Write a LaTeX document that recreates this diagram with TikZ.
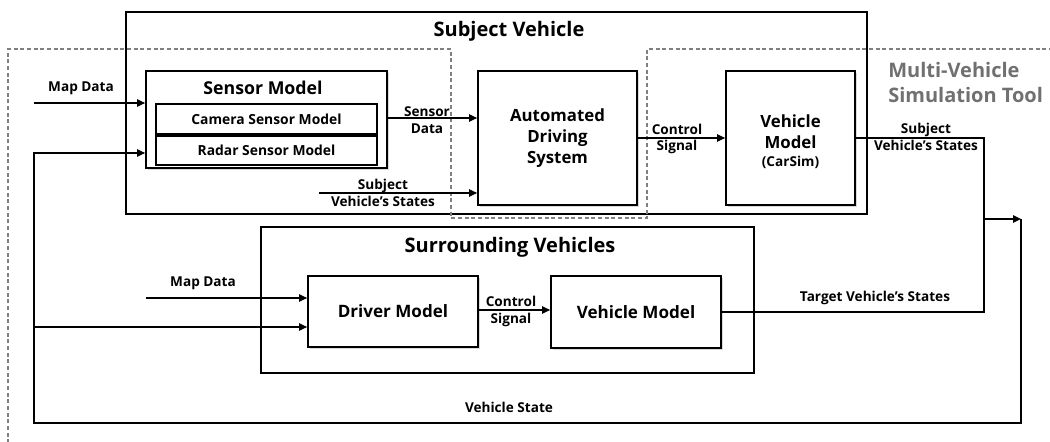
\documentclass[tikz,border=0pt]{standalone}
\usepackage{fontspec}
\setmainfont{Open Sans}
\usetikzlibrary{arrows.meta,shadows}

\definecolor{toolgray}{HTML}{707070}
\definecolor{dashgray}{HTML}{808080}

\tikzset{
  blk/.style={draw, line width=1.3pt, fill=white, inner sep=0pt, align=center,
    drop shadow={shadow xshift=1.6pt, shadow yshift=-1.6pt, opacity=0.3}},
  grp/.style={draw, line width=1.1pt, inner sep=0pt},
  subbox/.style={draw, line width=1.2pt, fill=white, inner sep=0pt,
    minimum width=165.75pt, font=\bfseries\fontsize{10.4}{12}\selectfont},
  title/.style={font=\bfseries\fontsize{15}{18}\selectfont, inner sep=0pt},
  boxtext/.style={font=\bfseries\fontsize{12.6}{15.5}\selectfont, align=center, inner sep=0pt},
  lbl/.style={font=\bfseries\fontsize{10.2}{12.5}\selectfont, align=center, inner sep=0pt},
  arr/.style={line width=1.1pt, -{Triangle[length=6pt,width=5.5pt]}},
  wire/.style={line width=1.1pt},
  tool/.style={draw=dashgray, line width=0.9pt, dash pattern=on 3pt off 2pt}
}

\begin{document}
\begin{tikzpicture}[x=0.75pt, y=-0.75pt]
  \useasboundingbox (0,0) rectangle (1050,442);
  \clip (0,0) rectangle (1050,442);

  % outer groups
  \node[grp, minimum width=555.75pt, minimum height=151.5pt] (subj) at (496.5,113) {};
  \node[grp, minimum width=369.75pt, minimum height=109.5pt] (surr) at (507.5,300) {};
  \node[title] (subjT) at (509,31) {Subject Vehicle};
  \node[title] (surrT) at (510,247) {Surrounding Vehicles};

  % simulation tool boundary
  \draw[tool] (8,450) -- (8,49) -- (451,49) -- (451,218) -- (647,218) -- (647,49) -- (1060,49);
  \node[font=\bfseries\fontsize{15}{18.75}\selectfont, text=toolgray, align=left, anchor=west, inner sep=0pt]
    (toolT) at (888,83) {Multi-Vehicle\\Simulation Tool};

  % subject vehicle blocks
  \node[blk, minimum width=180.75pt, minimum height=72.75pt] (sensor) at (266.5,119.5) {};
  \node[title, font=\bfseries\fontsize{13.3}{16}\selectfont] (sensorT) at (263,88) {Sensor Model};
  \node[subbox, minimum height=22.5pt] (camera) at (266.5,119) {Camera Sensor Model};
  \node[subbox, minimum height=21.75pt] (radar) at (266.5,150.5) {Radar Sensor Model};

  \node[blk, minimum width=119.25pt, minimum height=100.5pt] (ads) at (557.5,138) {};
  \node[boxtext] (adsT) at (557.5,138) {Automated\\Driving\\System};

  \node[blk, minimum width=96.75pt, minimum height=100.5pt] (vm) at (790.5,138) {};
  \node[boxtext] (vmT) at (790.5,142) {Vehicle\\Model\\[-2pt]{\fontsize{10.2}{11}\selectfont (CarSim)}};

  % surrounding vehicle blocks
  \node[blk, minimum width=127.5pt, minimum height=53.25pt] (driver) at (393,311.5) {};
  \node[boxtext, font=\bfseries\fontsize{12.8}{15}\selectfont] (driverT) at (393,311.5) {Driver Model};
  \node[blk, minimum width=127.5pt, minimum height=54pt] (svm) at (636,312) {};
  \node[boxtext, font=\bfseries\fontsize{12.8}{15}\selectfont] (svmT) at (636,312) {Vehicle Model};

  % free ends and turning points
  \coordinate (map1) at (34,103);
  \coordinate (map2) at (146,298);
  \coordinate (svsIn) at (319,193);
  \coordinate (merge) at (984,219);
  \coordinate (fbJoin) at (1021,219);
  \coordinate (fbR) at (1021,423);
  \coordinate (fbBot) at (34,423);
  \coordinate (fbTop) at (34,153);
  \coordinate (fbMid) at (34,327);

  % signal flow
  \draw[arr] (map1) -- (sensor.west |- map1);
  \draw[arr] (sensor.east |- 0,118) -- (ads.west |- 0,118);
  \draw[arr] (svsIn) -- (ads.west |- svsIn);
  \draw[arr] (ads.east) -- (vm.west);
  \draw[wire] (vm.east) -| (merge);
  \draw[wire] (svm.east) -| (merge);
  \draw[arr] (merge) -- (fbJoin);
  \draw[arr] (fbJoin) -- (fbR) -- (fbBot) |- (sensor.west |- fbTop);
  \draw[arr] (fbMid) -- (driver.west |- fbMid);
  \draw[arr] (map2) -- (driver.west |- map2);
  \draw[arr] (driver.east |- 0,310) -- (svm.west |- 0,310);

  % labels
  \node[lbl] (mapL1) at (81,88) {Map Data};
  \node[lbl] (mapL2) at (203,283) {Map Data};
  \node[lbl] (sdL) at (427,120) {Sensor\\Data};
  \node[lbl] (svsL1) at (383,193) {Subject\\Vehicle’s States};
  \node[lbl] (csL1) at (677,139) {Control\\Signal};
  \node[lbl] (svsL2) at (926,137) {Subject\\Vehicle’s States};
  \node[lbl] (csL2) at (511,311.5) {Control\\Signal};
  \node[lbl] (tvsL) at (875,298) {Target Vehicle’s States};
  \node[lbl] (vsL) at (509,407) {Vehicle State};
\end{tikzpicture}
\end{document}
